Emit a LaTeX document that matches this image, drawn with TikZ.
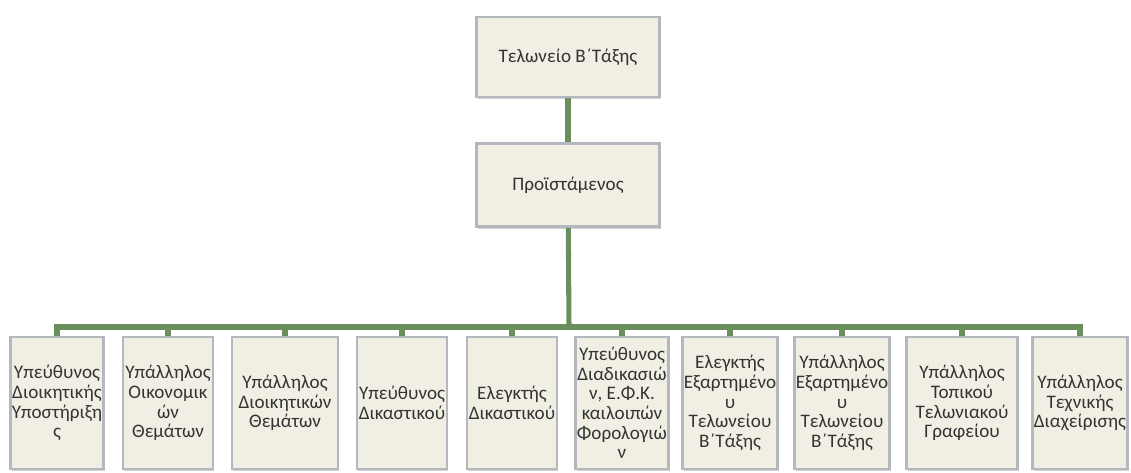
\documentclass[tikz,border=0pt]{standalone}
\usepackage{fontspec}
\setmainfont{Carlito}
\usetikzlibrary{shadows}
\definecolor{boxfill}{HTML}{F1EFE3}
\definecolor{boxedge}{HTML}{B3B8BF}
\definecolor{linkgreen}{HTML}{6A8E5C}
\begin{document}
\begin{tikzpicture}[x=0.025cm,y=-0.025cm,
  box/.style={draw=boxedge,line width=2pt,fill=boxfill,align=center,
    text=black!80,font=\fontsize{13.6}{14}\selectfont,inner sep=1pt,
    drop shadow={shadow xshift=1pt,shadow yshift=-1.5pt,opacity=0.35}},
  wide/.style={minimum width=#1*0.025cm},
  link/.style={draw=linkgreen,line width=3.6pt}]
\useasboundingbox (0,0) rectangle (1131,473);
% top levels
\node[box,wide=183,minimum height=2cm] (office) at (568,57) {Τελωνείο Β΄Τάξης};
\node[box,wide=183,minimum height=2.07cm] (head) at (568,185) {Προϊστάμενος};
\coordinate (bus) at (569,327);
% staff row
\tikzset{staff/.style={box,minimum height=3.3cm}}
\node[staff,wide=90] (s1) at (57,403) {Υπεύθυνος\\Διοικητικής\\Υποστήριξη\\ς};
\node[staff,wide=90] (s2) at (168,403) {Υπάλληλος\\Οικονομικ\\ών\\Θεμάτων};
\node[staff,wide=106] (s3) at (285,403) {Υπάλληλος\\Διοικητικών\\Θεμάτων};
\node[staff,wide=90] (s4) at (402,403) {Υπεύθυνος\\Δικαστικού};
\node[staff,wide=90] (s5) at (512,403) {Ελεγκτής\\Δικαστικού};
\node[staff,wide=91] (s6) at (622,403) {Υπεύθυνος\\Διαδικασιώ\\ν, Ε.Φ.Κ.\\καιλοιπών\\Φορολογιώ\\ν};
\node[staff,wide=90] (s7) at (730,403) {Ελεγκτής\\Εξαρτημένο\\υ\\Τελωνείου\\Β΄Τάξης};
\node[staff,wide=90] (s8) at (842,403) {Υπάλληλος\\Εξαρτημένο\\υ\\Τελωνείου\\Β΄Τάξης};
\node[staff,wide=111] (s9) at (962,403) {Υπάλληλος\\Τοπικού\\Τελωνιακού\\Γραφείου};
\node[staff,wide=87] (s10) at (1080,403) {Υπάλληλος\\Τεχνικής\\Διαχείρισης};
% connectors
\draw[link] (office) -- (head);
\draw[link] (head) -- (bus);
\foreach \i in {1,...,10}
  \draw[link] (s\i.north) |- (bus);
\end{tikzpicture}
\end{document}
